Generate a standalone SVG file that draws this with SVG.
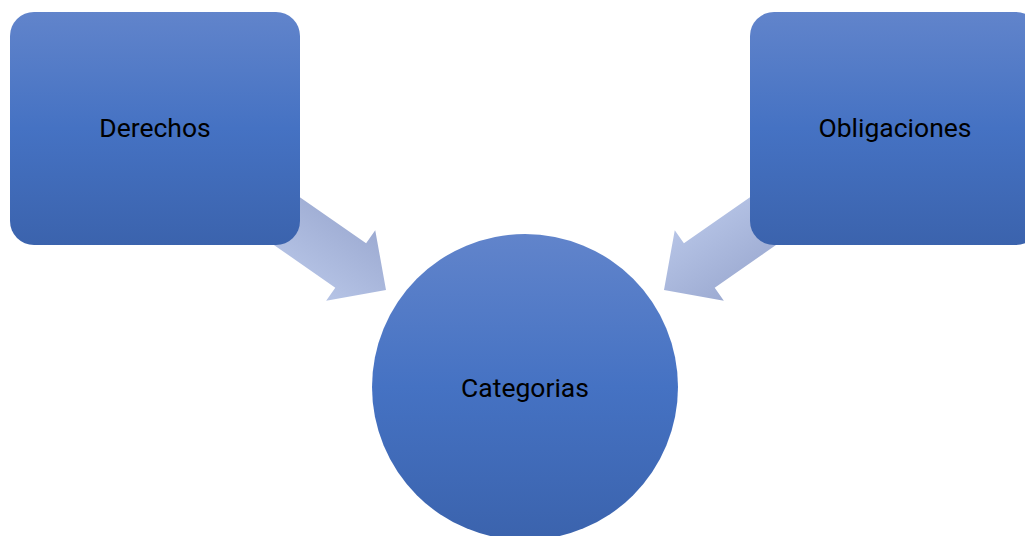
<svg xmlns="http://www.w3.org/2000/svg" width="1025" height="536" viewBox="0 0 1025 536">
  <defs>
    <linearGradient id="nodeGrad" x1="0" y1="0" x2="0" y2="1">
      <stop offset="0" stop-color="#6184cb"/>
      <stop offset="0.5" stop-color="#4572c3"/>
      <stop offset="1" stop-color="#3b63ad"/>
    </linearGradient>
    <linearGradient id="arrowGrad" x1="0" y1="0" x2="0" y2="1">
      <stop offset="0" stop-color="#9dabd2"/>
      <stop offset="1" stop-color="#b6c4e6"/>
    </linearGradient>
    <style>
      .node { fill: url(#nodeGrad); }
      .arrow { fill: url(#arrowGrad); }
      .label { font-family: Roboto, "Liberation Sans", sans-serif; font-size: 26.5px; fill: #000; text-anchor: middle; }
    </style>
  </defs>
  <rect width="1025" height="536" fill="#ffffff"/>
  <g id="connectors">
    <path class="arrow" transform="translate(386,290) rotate(34.8)" d="M0,0 L-43,-43 L-43,-27 L-160,-27 L-160,27 L-43,27 L-43,43 Z"/>
    <path class="arrow" transform="translate(664,290) rotate(145.2)" d="M0,0 L-43,-43 L-43,-27 L-160,-27 L-160,27 L-43,27 L-43,43 Z"/>
  </g>
  <g id="node-derechos">
    <rect class="node" x="10" y="12" width="290" height="233" rx="24" ry="24"/>
    <text class="label" x="155" y="137">Derechos</text>
  </g>
  <g id="node-obligaciones">
    <rect class="node" x="750" y="12" width="290" height="233" rx="24" ry="24"/>
    <text class="label" x="895" y="137">Obligaciones</text>
  </g>
  <g id="node-categorias">
    <circle class="node" cx="525" cy="387" r="153"/>
    <text class="label" x="525" y="397">Categorias</text>
  </g>
</svg>
